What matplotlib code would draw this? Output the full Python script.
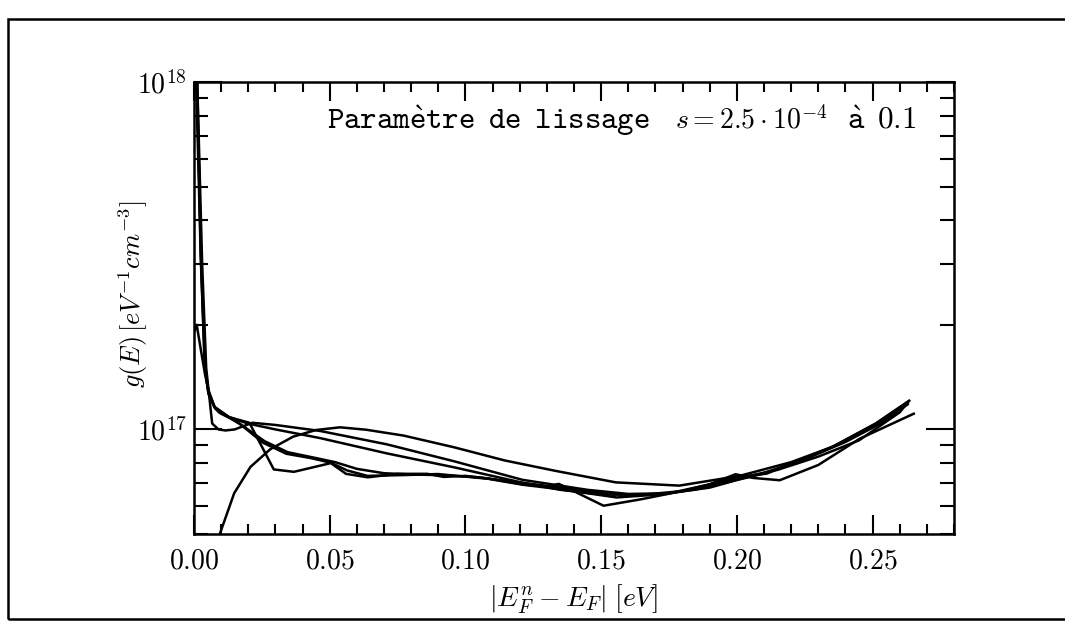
import math

import matplotlib.pyplot as plt
from matplotlib.patches import Rectangle
from matplotlib.ticker import FixedLocator, FuncFormatter, MultipleLocator, NullFormatter

plt.rcParams["mathtext.fontset"] = "cm"
plt.rcParams["font.family"] = "serif"

# g(E) in units of 1e17 eV^-1 cm^-3, one curve per smoothing parameter
e_a = [0.0095, 0.0148, 0.0208, 0.0281, 0.0365, 0.0449, 0.0538, 0.0634, 0.0772, 0.0959,
       0.1145, 0.1331, 0.1554, 0.1788, 0.2010, 0.2200, 0.2355, 0.2512, 0.2629]
g_a = [0.50, 0.655, 0.78, 0.877, 0.953, 0.996, 1.014, 0.998, 0.960, 0.888,
       0.814, 0.760, 0.704, 0.689, 0.735, 0.805, 0.893, 1.03, 1.18]

e_b = [0.0012, 0.0030, 0.0045, 0.0067, 0.0090, 0.0116, 0.0150, 0.0215, 0.0300, 0.0464,
       0.0710, 0.0960, 0.1210, 0.1333, 0.1450, 0.1600, 0.1750, 0.1900, 0.2000, 0.2110,
       0.2250, 0.2355, 0.2512, 0.2629]
g_b = [10.0, 3.0, 1.5, 1.04, 1.0, 0.993, 1.0, 1.045, 1.03, 0.99,
       0.906, 0.809, 0.716, 0.692, 0.670, 0.652, 0.655, 0.680, 0.715, 0.750,
       0.820, 0.893, 1.04, 1.20]

e_c = [0.0, 0.0010, 0.0025, 0.0040, 0.0053, 0.0076, 0.0129, 0.0198, 0.0300, 0.0465,
       0.0711, 0.0961, 0.1212, 0.1350, 0.1500, 0.1650, 0.1800, 0.1950, 0.2100, 0.2250,
       0.2400, 0.2550, 0.2629]
g_c = [1.9, 2.0, 1.7, 1.45, 1.30, 1.16, 1.085, 1.04, 1.0, 0.944,
       0.853, 0.777, 0.702, 0.670, 0.650, 0.648, 0.665, 0.700, 0.750, 0.820,
       0.920, 1.06, 1.19]

e_d = [0.0008, 0.0025, 0.0040, 0.0053, 0.0076, 0.0092, 0.0129, 0.0167, 0.0254, 0.0340,
       0.0430, 0.0504, 0.0564, 0.0639, 0.0776, 0.0898, 0.1084, 0.1211, 0.1333, 0.1450,
       0.1557, 0.1740, 0.1890, 0.1996, 0.2110, 0.2355, 0.2512, 0.2629]
g_d = [10.0, 3.1, 1.5, 1.27, 1.156, 1.12, 1.084, 1.04, 0.916, 0.851,
       0.827, 0.802, 0.762, 0.735, 0.739, 0.744, 0.721, 0.693, 0.675, 0.655,
       0.637, 0.652, 0.692, 0.728, 0.746, 0.893, 1.04, 1.20]

e_e = [0.0010, 0.0027, 0.0042, 0.0055, 0.0078, 0.0100, 0.0135, 0.0175, 0.0260, 0.0345,
       0.0440, 0.0520, 0.0600, 0.0700, 0.0800, 0.0920, 0.1050, 0.1180, 0.1300, 0.1420,
       0.1540, 0.1700, 0.1850, 0.2000, 0.2150, 0.2300, 0.2450, 0.2600, 0.2635]
g_e = [10.0, 3.0, 1.48, 1.26, 1.15, 1.11, 1.075, 1.03, 0.925, 0.86,
       0.83, 0.805, 0.770, 0.748, 0.742, 0.738, 0.728, 0.706, 0.688, 0.668,
       0.650, 0.648, 0.672, 0.722, 0.765, 0.835, 0.930, 1.12, 1.21]

e_j = [0.0012, 0.0025, 0.0040, 0.0053, 0.0076, 0.0129, 0.0204, 0.0294, 0.0368, 0.0430,
       0.0504, 0.0560, 0.0640, 0.0750, 0.0860, 0.0920, 0.1000, 0.1084, 0.1211, 0.1300,
       0.1344, 0.1509, 0.1650, 0.1800, 0.1900, 0.1995, 0.2060, 0.2158, 0.2300, 0.2452,
       0.2652]
g_j = [10.0, 3.2, 1.5, 1.28, 1.16, 1.085, 1.045, 0.767, 0.755, 0.775,
       0.800, 0.745, 0.728, 0.745, 0.745, 0.730, 0.735, 0.722, 0.695, 0.685,
       0.697, 0.603, 0.630, 0.665, 0.695, 0.743, 0.725, 0.714, 0.790, 0.940,
       1.11]

curves = [(e_a, g_a), (e_b, g_b), (e_c, g_c), (e_d, g_d), (e_e, g_e), (e_j, g_j)]

x_major = [0.00, 0.05, 0.10, 0.15, 0.20, 0.25]
y_major = [1e17, 1e18]

fig = plt.figure(figsize=(10.65, 6.44), dpi=100)
ax = fig.add_axes([194 / 1065, 1 - 534 / 644, 760 / 1065, 452 / 644])

for e, g in curves:
    ax.plot(e, [v * 1e17 for v in g], color="black", lw=1.8, solid_joinstyle="round")

ax.set_yscale("log")
ax.set_xlim(0.0, 0.28)
ax.set_ylim(5e16, 1e18)

ax.xaxis.set_major_locator(FixedLocator(x_major))
ax.xaxis.set_minor_locator(MultipleLocator(0.01))
ax.xaxis.set_major_formatter(FuncFormatter(lambda v, _: f"${v:.2f}$"))
ax.yaxis.set_major_locator(FixedLocator(y_major))
ax.yaxis.set_major_formatter(FuncFormatter(lambda v, _: r"$10^{%d}$" % round(math.log10(v))))
ax.yaxis.set_minor_formatter(NullFormatter())

ax.tick_params(which="both", direction="in", top=True, right=True, width=1.5, colors="black")
ax.tick_params(axis="x", which="major", length=14, labelsize=20, pad=10)
ax.tick_params(axis="x", which="minor", length=7)
ax.tick_params(axis="y", which="major", length=20, labelsize=20, pad=5)
ax.tick_params(axis="y", which="minor", length=10)
for sp in ax.spines.values():
    sp.set_linewidth(1.8)

ax.set_xlabel(r"$|E_F^n - E_F|\;[eV]$", fontsize=20, labelpad=6)
ax.set_ylabel(r"$g(E)\,[eV^{-1}cm^{-3}]$", fontsize=19)
ax.yaxis.set_label_coords(-0.058, 0.53)

# smoothing-parameter note in the upper right of the frame
ax.text(0.175, 0.915, r"$\mathtt{Param\grave{e}tre\enspace de\enspace lissage}$",
        transform=ax.transAxes, fontsize=22.5, va="center", ha="left")
ax.text(0.633, 0.915, r"$s = 2.5\cdot10^{-4}$",
        transform=ax.transAxes, fontsize=20, va="center", ha="left")
ax.text(0.859, 0.915, r"$\mathtt{\grave{a}\enspace 0.1}$",
        transform=ax.transAxes, fontsize=22.5, va="center", ha="left")

# page frame around the figure
fig.patches.append(Rectangle((8 / 1065, 1 - 619 / 644), 1.05, 600 / 644, transform=fig.transFigure,
                             fill=False, lw=1.8, ec="black"))

fig.savefig("out.png", dpi=100)
